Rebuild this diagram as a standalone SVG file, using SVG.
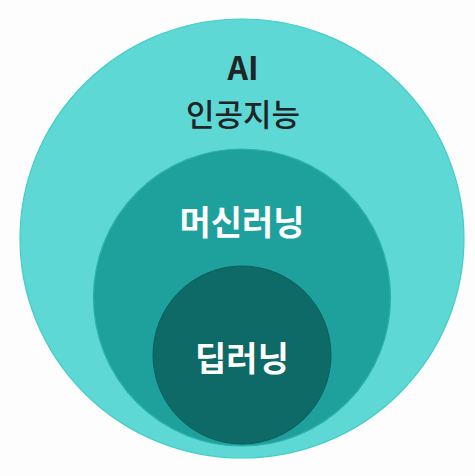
<svg xmlns="http://www.w3.org/2000/svg" width="475" height="476" viewBox="0 0 475 476">
<style>
.lbl{font-family:"Noto Sans CJK KR","Noto Sans",sans-serif;text-anchor:middle}
.dark{fill:#1f2424}
.light{fill:#ffffff;font-weight:bold}
</style>
<rect width="475" height="476" fill="#fdfdfd"/>
<g id="ai">
<ellipse cx="242" cy="238.5" rx="222" ry="219.5" fill="#5ed8d4" stroke="#44cdc8" stroke-width="1.2"/>
<text class="lbl dark" x="243" y="80" font-size="32" font-weight="bold" font-family="Liberation Sans, sans-serif">AI</text>
<text class="lbl dark" x="243" y="125.5" font-size="31" font-weight="500">인공지능</text>
</g>
<g id="ml">
<circle cx="242" cy="297.5" r="148.5" fill="#1ea19d" stroke="#2bb0ab" stroke-width="1.2"/>
<text class="lbl light" x="242" y="234.5" font-size="34">머신러닝</text>
</g>
<g id="dl">
<circle cx="242" cy="355" r="89" fill="#0d6a67" stroke="#0b5e5b" stroke-width="1"/>
<text class="lbl light" x="242" y="370.5" font-size="34">딥러닝</text>
</g>
<g id="connectors"/>
</svg>
